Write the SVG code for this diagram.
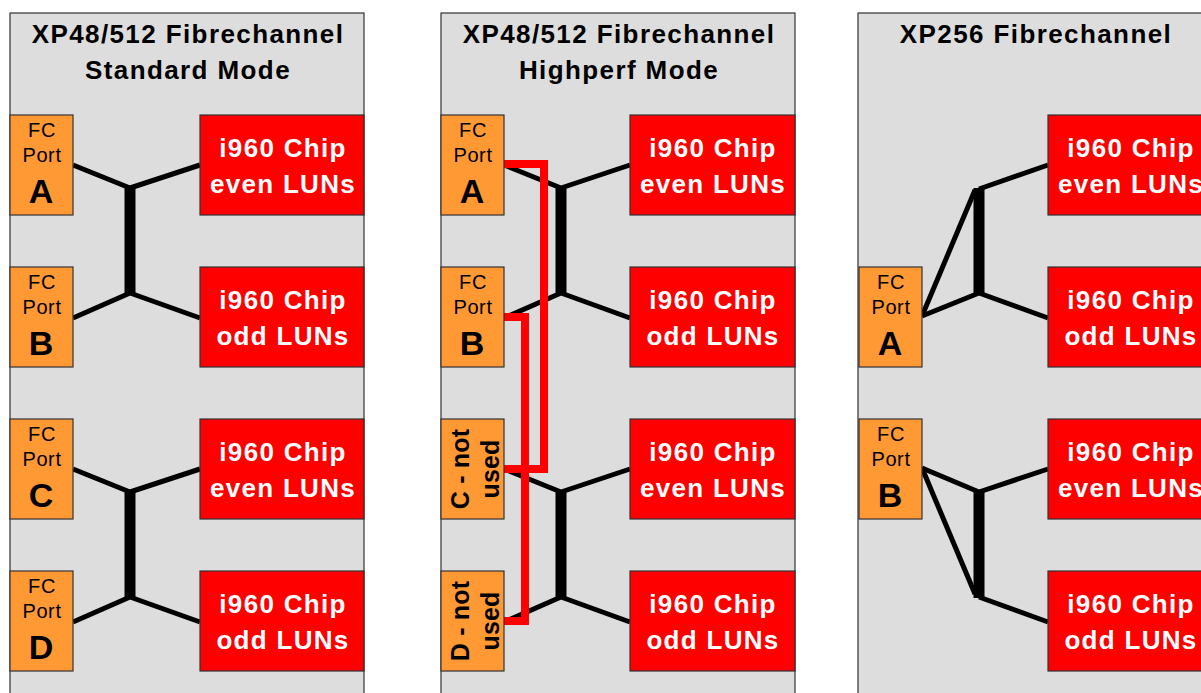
<svg xmlns="http://www.w3.org/2000/svg" width="1201" height="693" viewBox="0 0 1201 693">
<style>
.panel{fill:#DDDDDD;stroke:#333333;stroke-width:1.2}
.port{fill:#FF9933;stroke:#333333;stroke-width:1.2}
.chip{fill:#FF0000;stroke:#333333;stroke-width:1.2}
.title{font-family:"Liberation Sans",Arial,sans-serif;font-weight:bold;font-size:26px;letter-spacing:1.4px;fill:#000;text-anchor:middle}
.ct{font-family:"Liberation Sans",Arial,sans-serif;font-weight:bold;font-size:26px;letter-spacing:1.3px;fill:#FFFFFF;text-anchor:middle}
.pt{font-family:"Liberation Sans",Arial,sans-serif;font-size:20px;letter-spacing:0.6px;fill:#000;text-anchor:middle}
.pl{font-family:"Liberation Sans",Arial,sans-serif;font-weight:bold;font-size:34px;fill:#000;text-anchor:middle}
.rt{font-family:"Liberation Sans",Arial,sans-serif;font-weight:bold;font-size:25px;letter-spacing:0.2px;fill:#000;text-anchor:middle}
.thin{stroke:#000;stroke-width:5;fill:none;stroke-linejoin:round}
.bar{stroke:#000;stroke-width:11;fill:none}
.red{stroke:#FF0000;stroke-width:8;fill:none;stroke-linejoin:miter}
</style>

<g id="panel1">
<rect class="panel" x="10" y="13" width="354" height="720"/>
<text class="title" x="188" y="43">XP48/512 Fibrechannel</text>
<text class="title" x="188" y="79">Standard Mode</text>
</g>
<g id="panel2">
<rect class="panel" x="441" y="13" width="354" height="720"/>
<text class="title" x="619" y="43">XP48/512 Fibrechannel</text>
<text class="title" x="619" y="79">Highperf Mode</text>
</g>
<g id="panel3">
<rect class="panel" x="858" y="13" width="354" height="720"/>
<text class="title" x="1036" y="43">XP256 Fibrechannel</text>
</g>

<g id="connectors">
<polyline class="thin" points="73,165 130,188 200,165"/>
<polyline class="thin" points="73,318 130,293 200,318"/>
<line class="bar" x1="130" y1="187" x2="130" y2="294"/>
<polyline class="thin" points="73,469 130,492 200,469"/>
<polyline class="thin" points="73,622 130,597 200,622"/>
<line class="bar" x1="130" y1="491" x2="130" y2="598"/>
<polyline class="thin" points="504,165 561,188 630,165"/>
<polyline class="thin" points="504,318 561,293 630,318"/>
<line class="bar" x1="561" y1="187" x2="561" y2="294"/>
<polyline class="thin" points="504,469 561,492 630,469"/>
<polyline class="thin" points="504,622 561,597 630,622"/>
<line class="bar" x1="561" y1="491" x2="561" y2="598"/>
<polyline class="red" points="504,164 544,164 544,469 504,469"/>
<polyline class="red" points="504,317 525,317 525,621 504,621"/>
<polyline class="thin" points="922,316 975,190"/>
<polyline class="thin" points="922,316 979,293 1048,318"/>
<polyline class="thin" points="979,189 1048,165"/>
<line class="bar" x1="979" y1="188" x2="979" y2="295"/>
<polyline class="thin" points="922,468 979,492 1048,469"/>
<polyline class="thin" points="922,468 975,594"/>
<polyline class="thin" points="979,597 1048,622"/>
<line class="bar" x1="979" y1="491" x2="979" y2="598"/>
</g>

<g id="p1-portA"><rect class="port" x="10" y="115" width="63" height="100"/><text class="pt" x="42" y="137">FC</text><text class="pt" x="42" y="162">Port</text><text class="pl" x="41" y="203">A</text></g>
<g id="p1-portB"><rect class="port" x="10" y="267" width="63" height="100"/><text class="pt" x="42" y="289">FC</text><text class="pt" x="42" y="314">Port</text><text class="pl" x="41" y="355">B</text></g>
<g id="p1-portC"><rect class="port" x="10" y="419" width="63" height="100"/><text class="pt" x="42" y="441">FC</text><text class="pt" x="42" y="466">Port</text><text class="pl" x="41" y="507">C</text></g>
<g id="p1-portD"><rect class="port" x="10" y="571" width="63" height="100"/><text class="pt" x="42" y="593">FC</text><text class="pt" x="42" y="618">Port</text><text class="pl" x="41" y="659">D</text></g>
<g id="p1-chip1"><rect class="chip" x="200" y="115" width="164" height="100"/><text class="ct" x="283" y="157">i960 Chip</text><text class="ct" x="283" y="193">even LUNs</text></g>
<g id="p1-chip2"><rect class="chip" x="200" y="267" width="164" height="100"/><text class="ct" x="283" y="309">i960 Chip</text><text class="ct" x="283" y="345">odd LUNs</text></g>
<g id="p1-chip3"><rect class="chip" x="200" y="419" width="164" height="100"/><text class="ct" x="283" y="461">i960 Chip</text><text class="ct" x="283" y="497">even LUNs</text></g>
<g id="p1-chip4"><rect class="chip" x="200" y="571" width="164" height="100"/><text class="ct" x="283" y="613">i960 Chip</text><text class="ct" x="283" y="649">odd LUNs</text></g>

<g id="p2-portA"><rect class="port" x="441" y="115" width="63" height="100"/><text class="pt" x="473" y="137">FC</text><text class="pt" x="473" y="162">Port</text><text class="pl" x="472" y="203">A</text></g>
<g id="p2-portB"><rect class="port" x="441" y="267" width="63" height="100"/><text class="pt" x="473" y="289">FC</text><text class="pt" x="473" y="314">Port</text><text class="pl" x="472" y="355">B</text></g>
<g id="p2-portC"><rect class="port" x="441" y="419" width="63" height="100"/><text class="rt" transform="translate(472.5,469) rotate(-90)" x="0" y="-4">C - not</text><text class="rt" transform="translate(472.5,469) rotate(-90)" x="0" y="26.5">used</text></g>
<g id="p2-portD"><rect class="port" x="441" y="571" width="63" height="100"/><text class="rt" transform="translate(472.5,621) rotate(-90)" x="0" y="-4">D - not</text><text class="rt" transform="translate(472.5,621) rotate(-90)" x="0" y="26.5">used</text></g>
<g id="p2-chip1"><rect class="chip" x="630" y="115" width="165" height="100"/><text class="ct" x="713" y="157">i960 Chip</text><text class="ct" x="713" y="193">even LUNs</text></g>
<g id="p2-chip2"><rect class="chip" x="630" y="267" width="165" height="100"/><text class="ct" x="713" y="309">i960 Chip</text><text class="ct" x="713" y="345">odd LUNs</text></g>
<g id="p2-chip3"><rect class="chip" x="630" y="419" width="165" height="100"/><text class="ct" x="713" y="461">i960 Chip</text><text class="ct" x="713" y="497">even LUNs</text></g>
<g id="p2-chip4"><rect class="chip" x="630" y="571" width="165" height="100"/><text class="ct" x="713" y="613">i960 Chip</text><text class="ct" x="713" y="649">odd LUNs</text></g>

<g id="p3-portA"><rect class="port" x="859" y="267" width="63" height="100"/><text class="pt" x="891" y="289">FC</text><text class="pt" x="891" y="314">Port</text><text class="pl" x="890" y="355">A</text></g>
<g id="p3-portB"><rect class="port" x="859" y="419" width="63" height="100"/><text class="pt" x="891" y="441">FC</text><text class="pt" x="891" y="466">Port</text><text class="pl" x="890" y="507">B</text></g>
<g id="p3-chip1"><rect class="chip" x="1048" y="115" width="164" height="100"/><text class="ct" x="1131" y="157">i960 Chip</text><text class="ct" x="1131" y="193">even LUNs</text></g>
<g id="p3-chip2"><rect class="chip" x="1048" y="267" width="164" height="100"/><text class="ct" x="1131" y="309">i960 Chip</text><text class="ct" x="1131" y="345">odd LUNs</text></g>
<g id="p3-chip3"><rect class="chip" x="1048" y="419" width="164" height="100"/><text class="ct" x="1131" y="461">i960 Chip</text><text class="ct" x="1131" y="497">even LUNs</text></g>
<g id="p3-chip4"><rect class="chip" x="1048" y="571" width="164" height="100"/><text class="ct" x="1131" y="613">i960 Chip</text><text class="ct" x="1131" y="649">odd LUNs</text></g>
</svg>
